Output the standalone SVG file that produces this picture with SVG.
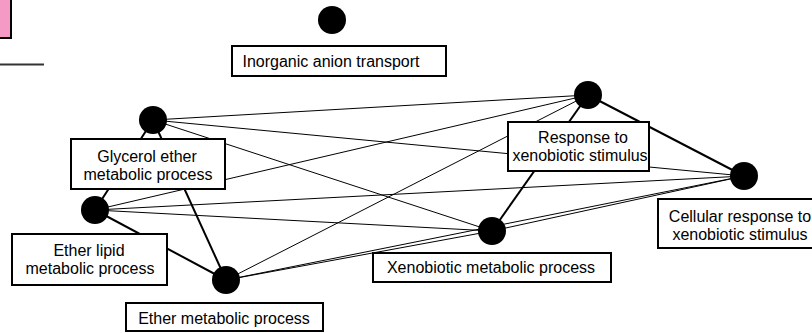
<svg xmlns="http://www.w3.org/2000/svg" width="812" height="333" viewBox="0 0 812 333">
<style>
.e{stroke:#000;stroke-width:1;fill:none}
.t{stroke-width:2}
.n{fill:#000}
.b{fill:#fff;stroke:#000;stroke-width:2}
.l{font-family:"Liberation Sans",Arial,sans-serif;font-size:16px;fill:#000;text-anchor:middle}
</style>
<rect x="-20" y="-20" width="31" height="58" fill="#f49ac5" stroke="#000" stroke-width="2"/>
<line x1="0" y1="64.5" x2="44" y2="64.5" stroke="#333" stroke-width="2"/>
<g id="edges">
<line class="e" x1="153" y1="120" x2="588" y2="95"/>
<line class="e" x1="153" y1="120" x2="744" y2="176"/>
<line class="e" x1="153" y1="120" x2="492" y2="231"/>
<line class="e t" x1="153" y1="120" x2="95" y2="210"/>
<line class="e t" x1="153" y1="120" x2="226" y2="280"/>
<line class="e" x1="95" y1="210" x2="588" y2="95"/>
<line class="e" x1="95" y1="210" x2="744" y2="176"/>
<line class="e" x1="95" y1="210" x2="492" y2="231"/>
<line class="e t" x1="95" y1="210" x2="226" y2="280"/>
<line class="e" x1="226" y1="280" x2="588" y2="95"/>
<line class="e" x1="226" y1="280" x2="744" y2="176"/>
<line class="e" x1="226" y1="280" x2="492" y2="231"/>
<line class="e t" x1="492" y1="231" x2="588" y2="95"/>
<line class="e" x1="492" y1="231" x2="744" y2="176"/>
<line class="e t" x1="588" y1="95" x2="744" y2="176"/>
</g>
<g id="n1">
<circle class="n" cx="332" cy="20" r="14"/>
<rect class="b" x="232" y="46" width="214" height="30"/>
<text class="l" x="331" y="67">Inorganic anion transport</text>
</g>
<g id="n2">
<circle class="n" cx="588" cy="95" r="14"/>
<rect class="b" x="508" y="122" width="141" height="49"/>
<text class="l" x="583" y="143">Response to</text>
<text class="l" x="580" y="161">xenobiotic stimulus</text>
</g>
<g id="n3">
<circle class="n" cx="153" cy="120" r="14"/>
<rect class="b" x="71" y="139" width="154" height="50"/>
<text class="l" x="147" y="162">Glycerol ether</text>
<text class="l" x="148" y="180">metabolic process</text>
</g>
<g id="n4">
<circle class="n" cx="95" cy="210" r="14"/>
<rect class="b" x="12" y="234" width="155" height="51"/>
<text class="l" x="89" y="256">Ether lipid</text>
<text class="l" x="90" y="274">metabolic process</text>
</g>
<g id="n5">
<circle class="n" cx="226" cy="280" r="14"/>
<rect class="b" x="126" y="303" width="197" height="28"/>
<text class="l" x="224" y="324">Ether metabolic process</text>
</g>
<g id="n6">
<circle class="n" cx="492" cy="231" r="14"/>
<rect class="b" x="373" y="253" width="238" height="29"/>
<text class="l" x="491" y="273">Xenobiotic metabolic process</text>
</g>
<g id="n7">
<circle class="n" cx="744" cy="176" r="14"/>
<rect class="b" x="658" y="199" width="166" height="49"/>
<text class="l" x="740" y="222">Cellular response to</text>
<text class="l" x="740" y="240">xenobiotic stimulus</text>
</g>
</svg>
